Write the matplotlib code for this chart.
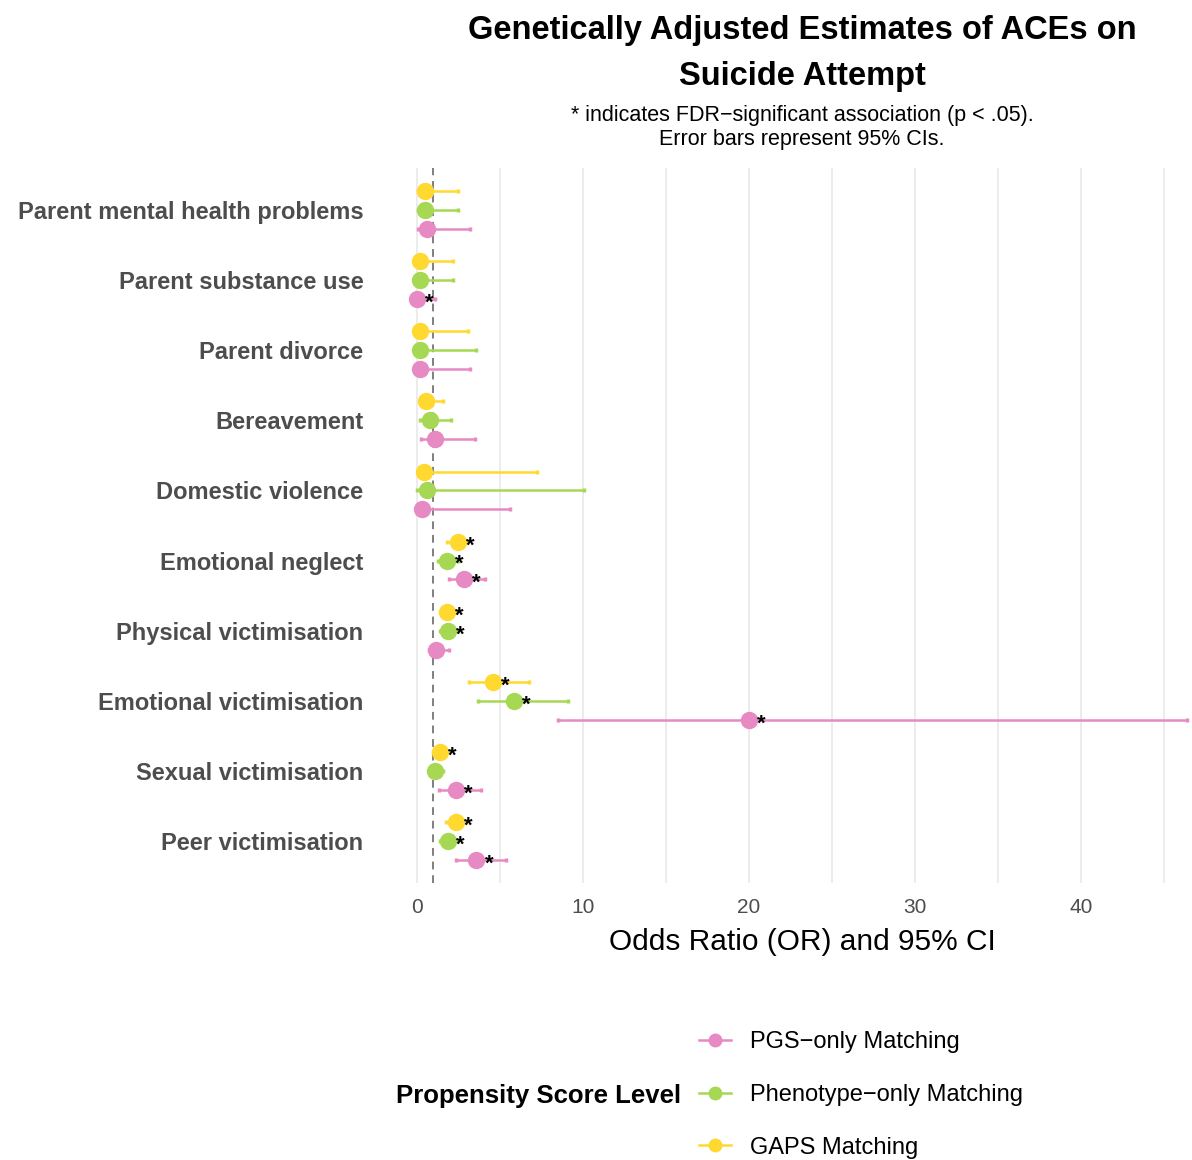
import matplotlib
matplotlib.use("Agg")
import matplotlib.pyplot as plt
from matplotlib.lines import Line2D
import numpy as np

plt.rcParams['font.family'] = ['Liberation Sans', 'DejaVu Sans']

categories = ["Parent mental health problems", "Parent substance use", "Parent divorce",
              "Bereavement", "Domestic violence", "Emotional neglect",
              "Physical victimisation", "Emotional victimisation",
              "Sexual victimisation", "Peer victimisation"]

# GAPS matching
gaps_or = [0.48, 0.18, 0.18, 0.58, 0.44, 2.49, 1.83, 4.6, 1.39, 2.39]
gaps_lo = [0.1, 0.05, 0.05, 0.3, 0.08, 1.83, 1.4, 3.13, 1.0, 1.75]
gaps_hi = [2.5, 2.2, 3.1, 1.6, 7.27, 3.0, 2.4, 6.77, 1.9, 3.0]
gaps_sig = [0, 0, 0, 0, 0, 1, 1, 1, 1, 1]

# Phenotype-only matching
pheno_or = [0.52, 0.18, 0.22, 0.78, 0.64, 1.85, 1.89, 5.84, 1.12, 1.89]
pheno_lo = [0.1, 0.05, 0.05, 0.2, 0.05, 1.3, 1.4, 3.7, 0.75, 1.4]
pheno_hi = [2.5, 2.2, 3.55, 2.05, 10.06, 2.5, 2.5, 9.1, 1.6, 2.5]
pheno_sig = [0, 0, 0, 0, 0, 1, 1, 1, 0, 1]

# PGS-only matching
pgs_or = [0.64, 0.02, 0.18, 1.12, 0.32, 2.85, 1.18, 20.0, 2.35, 3.6]
pgs_lo = [0.08, 0.01, 0.05, 0.28, 0.05, 1.95, 0.74, 8.5, 1.35, 2.35]
pgs_hi = [3.2, 1.1, 3.2, 3.5, 5.6, 4.1, 1.95, 46.4, 3.9, 5.36]
pgs_sig = [0, 1, 0, 0, 0, 1, 0, 1, 1, 1]

series = [
    ("PGS\u2212only Matching", "#E78AC3", pgs_or, pgs_lo, pgs_hi, pgs_sig, 0.27),
    ("Phenotype\u2212only Matching", "#A6D854", pheno_or, pheno_lo, pheno_hi, pheno_sig, 0.0),
    ("GAPS Matching", "#FFD92F", gaps_or, gaps_lo, gaps_hi, gaps_sig, -0.27),
]

W, H = 1192, 1160
fig = plt.figure(figsize=(W / 100, H / 100), dpi=100)
left, right, top, bottom = 380, 1224, 168, 883
ax = fig.add_axes([left / W, 1 - bottom / H, (right - left) / W, (bottom - top) / H])

ypos = np.arange(len(categories))
for name, col, est, lo, hi, sig, off in series:
    est = np.array(est)
    y = ypos + off
    ax.errorbar(est, y, xerr=[est - np.array(lo), np.array(hi) - est], fmt='o',
                color=col, ms=11.5, elinewidth=1.8, capsize=1.5, capthick=2.5,
                zorder=3)
    for xi, yi, s in zip(est, y, sig):
        if s:
            ax.annotate("*", xy=(xi, yi), xytext=(9, -3), textcoords='offset points',
                        ha='center', va='center', fontsize=16, fontweight='bold',
                        color='black', zorder=4)

ax.axvline(1, color='#7f7f7f', ls=(0, (4, 3)), lw=1.4, zorder=2)

ax.set_xlim(-2.2, 48.6)
ax.set_ylim(len(categories) - 0.4, -0.6)
ax.set_xticks([0, 10, 20, 30, 40])
ax.set_xticks([5, 15, 25, 35, 45], minor=True)
ax.set_yticks(ypos)
ax.set_yticklabels(categories, fontsize=17, fontweight='bold', color='#4D4D4D')
ax.tick_params(axis='y', length=0, pad=12)
ax.tick_params(axis='x', which='both', length=0, pad=11, labelsize=15, labelcolor='#4D4D4D')
ax.grid(axis='x', which='both', color='#EBEBEB', lw=1.3, zorder=0)
for sp in ax.spines.values():
    sp.set_visible(False)
ax.set_xlabel("Odds Ratio (OR) and 95% CI", fontsize=21.5, labelpad=8)

cx = 802 / W
fig.text(cx, 1 - 30 / H, "Genetically Adjusted Estimates of ACEs on", ha='center', va='center',
         fontsize=23.5, fontweight='bold')
fig.text(cx, 1 - 77 / H, "Suicide Attempt", ha='center', va='center',
         fontsize=23.5, fontweight='bold')
fig.text(cx, 1 - 116 / H, "* indicates FDR\u2212significant association (p < .05).",
         ha='center', va='center', fontsize=15.5)
fig.text(cx, 1 - 140 / H, "Error bars represent 95% CIs.", ha='center', va='center', fontsize=15.5)

handles = [Line2D([], [], color=c, marker='o', ms=9, lw=1.8) for _, c, *_ in series]
labels = [s[0] for s in series]
fig.legend(handles, labels, loc='center left', bbox_to_anchor=(699 / W, 1 - 1095 / H),
           frameon=False, fontsize=17, labelspacing=1.3, handlelength=1.35,
           handletextpad=0.8, borderpad=0, borderaxespad=0)
fig.text(681 / W, 1 - 1096 / H, "Propensity Score Level", ha='right', va='center',
         fontsize=18.5, fontweight='bold')

fig.savefig("out.png", dpi=100)
